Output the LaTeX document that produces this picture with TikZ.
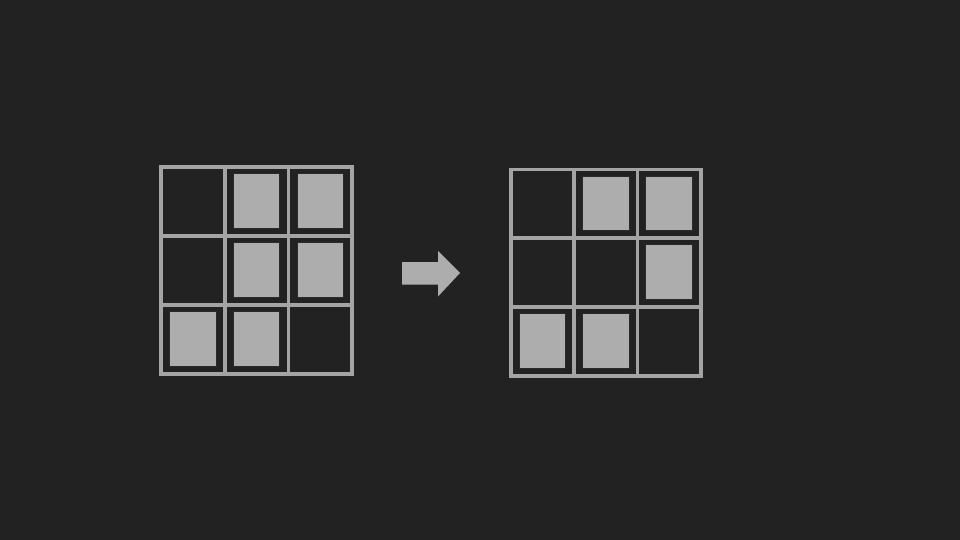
\documentclass[tikz,border=0pt]{standalone}
\definecolor{bgdark}{HTML}{222222}
\definecolor{linegray}{HTML}{A4A4A4}
\definecolor{cellgray}{HTML}{ADADAD}
\definecolor{celledge}{HTML}{2A2A2A}
\begin{document}
\begin{tikzpicture}[x=1pt, y=-1pt,
  gridline/.style={draw=linegray, line width=3.8pt, line cap=rect},
  cell/.style={draw=celledge, line width=1pt, fill=cellgray, inner sep=0pt,
    minimum width=46.5pt, minimum height=54.5pt}]
\fill[bgdark] (0,0) rectangle (960,540);
\useasboundingbox (0,0) rectangle (960,540);
% before
\foreach \i in {0,...,3} {
  \draw[gridline] (161+\i*63.7,167) -- (161+\i*63.7,374);
  \draw[gridline] (161,167+\i*69) -- (352,167+\i*69);
}
\foreach \r/\c in {1/2, 1/3, 2/2, 2/3, 3/1, 3/2}
  \node[cell] (before-\r-\c) at (161+\c*63.7-31.85, 167+\r*69-35) {};
% after
\foreach \i in {0,...,3} {
  \draw[gridline] (511+\i*63.2,169.5) -- (511+\i*63.2,376);
  \draw[gridline] (511,169.5+\i*68.8) -- (701,169.5+\i*68.8);
}
\foreach \r/\c in {1/2, 1/3, 2/3, 3/1, 3/2}
  \node[cell] (after-\r-\c) at (511+\c*63.2-31.6, 169.5+\r*68.8-35) {};
% arrow
\fill[cellgray] (402,262) -- (438,262) -- (438,251) -- (460,273)
  -- (438,296.5) -- (438,284.5) -- (402,284.5) -- cycle;
\end{tikzpicture}
\end{document}
